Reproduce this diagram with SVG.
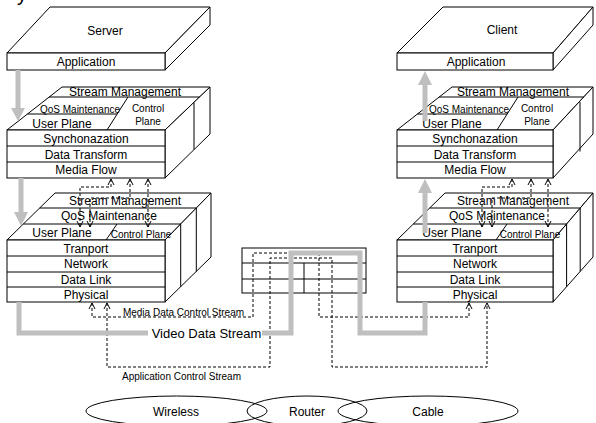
<svg xmlns="http://www.w3.org/2000/svg" width="596" height="423" viewBox="0 0 596 423">
<defs>
<style>
text{font-family:"Liberation Sans",Arial,sans-serif;font-size:12px;fill:#000;text-anchor:middle}
.s{font-size:10px}
.v{font-size:13px}
.f{fill:#fff;stroke:#000;stroke-width:1}
.l{fill:none;stroke:#000;stroke-width:1}
.g{fill:none;stroke:#bfbfbf;stroke-width:5}
.gh{fill:#bfbfbf;stroke:none}
.d{fill:none;stroke:#000;stroke-width:1;stroke-dasharray:3 2;marker-start:url(#a);marker-end:url(#a)}
.dn{fill:none;stroke:#000;stroke-width:1;stroke-dasharray:3 2}
</style>
<marker id="a" viewBox="0 0 8 8" refX="7" refY="4" markerWidth="8" markerHeight="8" markerUnits="userSpaceOnUse" orient="auto-start-reverse"><path d="M1,1 L7,4 L1,7" fill="none" stroke="#000" stroke-width="1"/></marker>
</defs>
<rect width="596" height="423" fill="#fff"/>
<text x="22" y="1" style="font-size:20px">y</text>

<g id="server-app">
<polygon class="f" points="7,53 50,7 210,7 165,53"/>
<polygon class="f" points="165,53 210,7 210,25 165,70"/>
<rect class="f" x="7" y="53" width="158" height="17"/>
<text x="105" y="35">Server</text>
<text x="86" y="66">Application</text>
</g>

<g id="server-middle">
<polygon class="f" points="7,130 62,87 210,87 165,130"/>
<polygon class="f" points="165,130 210,87 210,134 165,178"/>
<rect class="f" x="7" y="130" width="158" height="48"/>
<path class="l" d="M7,146H165M7,162H165M49,97H199.5M27.5,114H117M128,97L107,130M194,102.3V149.6"/>
<text x="125" y="96">Stream Management</text>
<text class="s" x="80" y="112.5">QoS Maintenance</text>
<text x="62" y="127.5">User Plane</text>
<text class="s" x="148" y="112">Control</text>
<text class="s" x="148" y="125">Plane</text>
<text x="86" y="142.5">Synchonazation</text>
<text x="86" y="158.5">Data Transform</text>
<text x="86" y="174">Media Flow</text>
</g>

<g id="server-lower">
<polygon class="f" points="7,240 55,193 211,193 165,240"/>
<polygon class="f" points="165,240 211,193 211,257 165,302"/>
<rect class="f" x="7" y="240" width="158" height="62"/>
<path class="l" d="M7,256H165M7,272H165M7,287H165M39.7,208H196.3M23.3,224H180.7M117,224L106,240M180.7,224V286.6M196.3,208V271.6"/>
<text x="125" y="205">Stream Management</text>
<text x="109" y="219.5">QoS Maintenance</text>
<text x="62" y="237">User Plane</text>
<text class="s" x="141" y="237.5">Control Plane</text>
<text x="86" y="252.5">Tranport</text>
<text x="86" y="268">Network</text>
<text x="86" y="283.5">Data Link</text>
<text x="86" y="298.5">Physical</text>
</g>

<g id="client-app">
<polygon class="f" points="397,53 443,7 593,7 553,53"/>
<polygon class="f" points="553,53 593,7 593,25 553,70"/>
<rect class="f" x="397" y="53" width="156" height="17"/>
<text x="502" y="34">Client</text>
<text x="476" y="66">Application</text>
</g>

<g id="client-middle">
<polygon class="f" points="397,130 452,87 593,87 553,130"/>
<polygon class="f" points="553,130 593,87 593,134 553,178"/>
<rect class="f" x="397" y="130" width="156" height="48"/>
<path class="l" d="M397,146H553M397,162H553M439.2,97H583.7M417.5,114H507M518,97L497,130M580,101.9V151.6"/>
<text x="513" y="96">Stream Management</text>
<text class="s" x="469" y="112.5">QoS Maintenance</text>
<text x="452" y="127.5">User Plane</text>
<text class="s" x="537" y="112">Control</text>
<text class="s" x="537" y="125">Plane</text>
<text x="475" y="142.5">Synchonazation</text>
<text x="475" y="158.5">Data Transform</text>
<text x="475" y="174">Media Flow</text>
</g>

<g id="client-lower">
<polygon class="f" points="397,240 445,193 593,193 553,240"/>
<polygon class="f" points="553,240 593,193 593,257 553,302"/>
<rect class="f" x="397" y="240" width="156" height="62"/>
<path class="l" d="M397,256H553M397,272H553M397,287H553M429.7,208H580.2M413.3,224H566.6M507,224L496,240M566.6,224V286.7M580.2,208V271.4"/>
<text x="513" y="205">Stream Management</text>
<text x="497" y="219.5">QoS Maintenance</text>
<text x="452" y="237">User Plane</text>
<text class="s" x="530" y="237.5">Control Plane</text>
<text x="475" y="252.5">Tranport</text>
<text x="475" y="268">Network</text>
<text x="475" y="283.5">Data Link</text>
<text x="475" y="298.5">Physical</text>
</g>

<g id="router">
<rect class="f" x="242" y="248" width="124" height="45"/>
<path class="l" d="M242,263H366M242,279H366M304,263V293"/>
</g>

<g id="wireless">
<ellipse class="l" cx="176.5" cy="411" rx="90.5" ry="15"/>
<text x="176" y="415.5">Wireless</text>
</g>
<g id="router-net">
<ellipse class="l" cx="307" cy="411" rx="60" ry="15"/>
<text x="307" y="415.5">Router</text>
</g>
<g id="cable">
<ellipse class="l" cx="428" cy="411" rx="90" ry="15"/>
<text x="428" y="415.5">Cable</text>
</g>

<g id="connectors">
<path class="g" d="M18,70V109"/>
<polygon class="gh" points="11,108 25,108 18,121"/>
<path class="g" d="M21,178V213"/>
<polygon class="gh" points="14,212 28,212 21,226"/>
<path class="g" d="M425,121V84"/>
<polygon class="gh" points="418,85 432,85 425,71"/>
<path class="g" d="M425,233V192"/>
<polygon class="gh" points="418,193 432,193 425,179"/>

<path class="d" d="M111,179V187H80V227"/>
<path class="d" d="M130,179V198H90V227"/>
<path class="d" d="M148,179V227"/>
<path class="d" d="M512,179V187H482V227"/>
<path class="d" d="M531,179V198H492V227"/>
<path class="d" d="M548,179V227"/>

<path class="d" d="M92,303V317H253V253H319V317H469V303"/>
<path class="d" d="M107,303V367H270V258H332V367H487V303"/>

<path class="g" d="M19,302V333H148"/>
<path class="g" d="M262,333H291V253H360V333H425V302"/>
<text class="v" x="206.5" y="337.5">Video Data Stream</text>
<text class="s" x="183.5" y="315.5">Media Data Control Stream</text>
<text class="s" x="181.5" y="379.5">Application Control Stream</text>
</g>
</svg>
